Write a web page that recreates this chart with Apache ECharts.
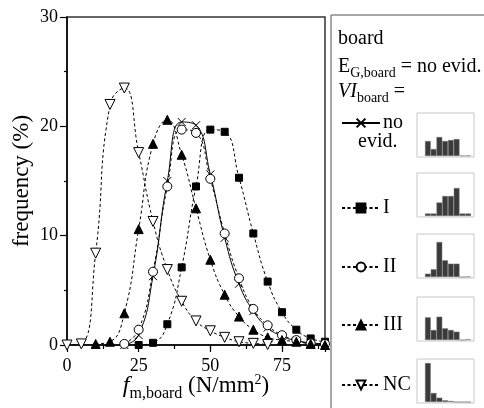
<!DOCTYPE html>
<html>
<head>
<meta charset="utf-8">
<script src="https://cdn.jsdelivr.net/npm/echarts@6/dist/echarts.min.js"></script>
<style>
  html, body { margin: 0; padding: 0; background: #fff; }
  #chart { width: 484px; height: 408px; }
</style>
</head>
<body>
<div id="chart"></div>
<script>
// strength classes on the x axis (N/mm2)
var fValues = [0, 5, 10, 15, 20, 25, 30, 35, 40, 45, 50, 55, 60, 65, 70, 75, 80, 85, 90];

// frequency (%) per visual grade
var noEvid   = [null, null, null, null, 0, 0.9, 6.3, 15.0, 20.4, 20.1, 15.6, 9.8, 5.6, 3.1, 1.6, 0.8, 0.4, 0.2, 0.1];
var gradeI   = [null, null, null, null, null, 0, 0.2, 1.9, 7.1, 14.5, 19.7, 19.5, 15.3, 10.2, 5.8, 3.0, 1.4, 0.6, 0.3];
var gradeII  = [null, null, null, null, 0.1, 1.4, 6.7, 14.5, 19.7, 19.4, 15.2, 10.2, 6.1, 3.3, 1.8, 0.9, 0.45, 0.15, 0.1];
var gradeIII = [null, null, 0.1, 0.3, 2.9, 10.6, 18.4, 20.6, 17.4, 12.5, 7.8, 4.6, 2.6, 1.4, 0.7, 0.45, 0.3, 0.1, 0];
var gradeNC  = [0, 0.1, 8.4, 22.0, 23.5, 17.6, 11.3, 6.9, 4.0, 2.2, 1.3, 0.7, 0.3, 0.15, 0.05, null, null, null, null];

// small histograms in the legend (8 bins each, bar height relative to box)
var histBins = ['1', '2', '3', '4', '5', '6', '7', '8'];
var histNoEvid = [15, 7, 19, 15, 16, 17, 0.5, 0.5];
var histI      = [2.5, 2.5, 13.5, 20, 20, 28, 2.5, 2.5];
var histII     = [3.3, 7.7, 35, 16.7, 13.3, 13.3, 0, 0.4];
var histIII    = [22.7, 10, 23.3, 11.7, 10, 8.3, 0, 0.7];
var histNC     = [39, 9, 4.3, 1.7, 1, 0, 0, 0];

var serif = 'Liberation Serif';

function pairs(ys) {
    return fValues.map(function (x, i) { return ys[i] == null ? null : [x, ys[i]]; })
                  .filter(function (p) { return p !== null; });
}

var chart = echarts.init(document.getElementById('chart'));

var curves = [
    { name: 'no evid.', data: noEvid, symbol: 'path://M0,0L10,10M0,10L10,0', size: 8, fill: '#000', dashed: false, rotate: 0 },
    { name: 'I', data: gradeI, symbol: 'rect', size: 7, fill: '#000', dashed: true, rotate: 0 },
    { name: 'II', data: gradeII, symbol: 'circle', size: 9, fill: '#fff', dashed: true, rotate: 0 },
    { name: 'III', data: gradeIII, symbol: 'triangle', size: 9, fill: '#000', dashed: true, rotate: 0 },
    { name: 'NC', data: gradeNC, symbol: 'triangle', size: 10, fill: '#fff', dashed: true, rotate: 180 }
];
var legendTops = [118, 203, 262, 320, 380];

var series = curves.map(function (c) {
    return {
        name: c.name,
        type: 'line',
        xAxisIndex: 0,
        yAxisIndex: 0,
        data: pairs(c.data),
        smooth: 0.5,
        symbol: c.symbol,
        symbolSize: c.size,
        symbolRotate: c.rotate,
        lineStyle: { color: '#000', width: 1, type: c.dashed ? [3, 2.5] : 'solid' },
        itemStyle: { color: c.fill, borderColor: '#000', borderWidth: 1 },
        emphasis: { disabled: true }
    };
});

var hists = [histNoEvid, histI, histII, histIII, histNC];
var boxTops = [113, 173, 234, 297, 359];

var grids = [{
    left: 67, top: 17, width: 258, height: 328, show: true, borderColor: '#333', borderWidth: 1.5,
    outerBoundsMode: 'none', containLabel: false
}];
var xAxes = [
    {
        type: 'value', gridIndex: 0, min: 0, max: 90, interval: 12.5,
        axisLine: { lineStyle: { color: '#000', width: 1.5 } },
        axisTick: { length: 4, lineStyle: { color: '#000', width: 1.2 } },
        axisLabel: {
            color: '#000', fontFamily: serif, fontSize: 18, margin: 12,
            formatter: function (v) { return v % 25 === 0 ? String(v) : ''; }
        },
        splitLine: { show: false },
        name: '{i|f}{s|m,board}{t| (N/mm}{p|2}{t|)}',
        nameLocation: 'middle',
        nameGap: 25,
        nameMoveOverlap: false,
        nameTextStyle: {
            color: '#000', fontFamily: serif, fontSize: 23,
            rich: {
                i: { fontFamily: serif, fontSize: 24, fontStyle: 'italic', color: '#000', lineHeight: 32, verticalAlign: 'middle' },
                s: { fontFamily: serif, fontSize: 16, color: '#000', lineHeight: 16, verticalAlign: 'bottom' },
                t: { fontFamily: serif, fontSize: 23, color: '#000', lineHeight: 32, verticalAlign: 'middle' },
                p: { fontFamily: serif, fontSize: 14, color: '#000', lineHeight: 14, verticalAlign: 'top', padding: [3, 0, 0, 0] }
            }
        }
    },
    {
        type: 'value', gridIndex: 0, min: 0, max: 90, interval: 25, position: 'bottom',
        axisLine: { show: false },
        axisTick: { length: 7, lineStyle: { color: '#000', width: 1.2 } },
        axisLabel: { show: false },
        splitLine: { show: false }
    }
];
var yAxes = [{
    type: 'value', gridIndex: 0, min: 0, max: 30, interval: 10,
    axisLine: { show: true, lineStyle: { color: '#000', width: 1.5 } },
    axisTick: { show: true, length: 7, lineStyle: { color: '#000', width: 1.2 } },
    minorTick: { show: true, splitNumber: 2, length: 3, lineStyle: { color: '#000', width: 1.2 } },
    axisLabel: { color: '#000', fontFamily: serif, fontSize: 18, margin: 9 },
    splitLine: { show: false },
    name: 'frequency (%)',
    nameLocation: 'middle',
    nameGap: 34,
    nameMoveOverlap: false,
    nameTextStyle: { color: '#000', fontFamily: serif, fontSize: 23 }
}];

var graphics = [
    // legend panel frame
    { type: 'line', shape: { x1: 331, y1: 15, x2: 331, y2: 408 }, style: { stroke: '#8a8a8a', lineWidth: 1.5 } },
    { type: 'line', shape: { x1: 331, y1: 15, x2: 484, y2: 15 }, style: { stroke: '#8a8a8a', lineWidth: 1.5 } },
    { type: 'text', left: 338, top: 29, style: { text: 'board', font: '20px ' + serif, fill: '#000' } },
    {
        type: 'text', left: 338, top: 57,
        style: {
            text: '{a|E}{b|G,board}{a| = no evid.}', fill: '#000',
            rich: {
                a: { font: '20px ' + serif, lineHeight: 26, verticalAlign: 'middle' },
                b: { font: '14px ' + serif, lineHeight: 14, verticalAlign: 'bottom' }
            }
        }
    },
    {
        type: 'text', left: 338, top: 82,
        style: {
            text: '{i|VI}{b|board}{a| =}', fill: '#000',
            rich: {
                i: { font: 'italic 20px ' + serif, lineHeight: 26, verticalAlign: 'middle' },
                a: { font: '20px ' + serif, lineHeight: 26, verticalAlign: 'middle' },
                b: { font: '14px ' + serif, lineHeight: 14, verticalAlign: 'bottom' }
            }
        }
    },
    { type: 'text', left: 358, top: 132, style: { text: 'evid.', font: '20px ' + serif, fill: '#000' } }
];

var legends = curves.map(function (c, i) {
    return {
        data: [c.name],
        left: 336,
        top: legendTops[i] - 10,
        itemWidth: 38,
        itemHeight: 11,
        itemGap: 0,
        selectedMode: false,
        formatter: function (n) { return n === 'no evid.' ? 'no' : n; },
        textStyle: { color: '#000', fontFamily: serif, fontSize: 20, padding: [0, 0, 0, -2] }
    };
});

hists.forEach(function (h, i) {
    var gi = i + 1;
    grids.push({ left: 425, top: boxTops[i], width: 46, height: 43, outerBoundsMode: 'none', containLabel: false });
    xAxes.push({ type: 'category', gridIndex: gi, data: histBins, show: false });
    yAxes.push({ type: 'value', gridIndex: gi, min: 0, max: 43, show: false, splitLine: { show: false } });
    series.push({
        type: 'bar',
        xAxisIndex: gi + 1,
        yAxisIndex: gi,
        data: h,
        barCategoryGap: 0,
        itemStyle: { color: '#3b3b3b', borderColor: '#7a7a7a', borderWidth: 0.5 },
        emphasis: { disabled: true },
        silent: true
    });
    graphics.push({
        type: 'rect',
        shape: { x: 417, y: boxTops[i], width: 57, height: 44 },
        style: { fill: 'none', stroke: '#c8c8c8', lineWidth: 1 }
    });
});

var option = {
    animation: false,
    backgroundColor: '#fff',
    grid: grids,
    xAxis: xAxes,
    yAxis: yAxes,
    legend: legends,
    graphic: graphics,
    series: series
};

chart.setOption(option);
</script>
</body>
</html>
